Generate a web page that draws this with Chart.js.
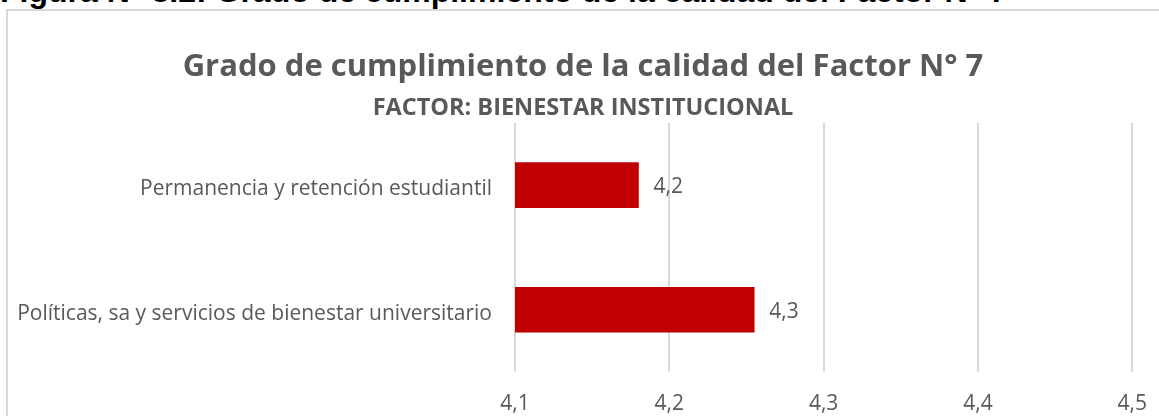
<!DOCTYPE html>
<html><head><meta charset="utf-8">
<script src="https://cdn.jsdelivr.net/npm/chart.js@4.4.1/dist/chart.umd.min.js"></script>
<style>
html,body{margin:0;padding:0;width:1159px;height:416px;overflow:hidden;background:#fff;}
#heading{position:absolute;left:0;top:-25px;white-space:nowrap;font:bold 32px "Liberation Sans",Arial,sans-serif;line-height:32px;color:#000;}
#box{position:absolute;left:6px;top:9px;width:1200px;height:500px;border:2px solid #d9d9d9;box-sizing:border-box;background:transparent;}
#wrap{position:absolute;left:0;top:0;width:1166px;height:416px;}
</style></head><body>
<div id="heading">Figura N° 8.2: Grado de cumplimiento de la calidad del Factor N° 7</div>
<div id="box"></div>
<div id="wrap"><canvas id="c" width="1166" height="416"></canvas></div>
<script>
const categories = ["Permanencia y retención estudiantil", "Políticas, sa y servicios de bienestar universitario"];
const values = [4.18, 4.255];
const tickValues = [4.1, 4.2, 4.3, 4.4, 4.5];
const titleText = "Grado de cumplimiento de la calidad del Factor N° 7";
const subtitleText = "FACTOR: BIENESTAR INSTITUCIONAL";

const GRAY = '#595959';
const fmt = v => (Math.round(v * 10) / 10).toFixed(1).replace('.', ',');

const barLabels = {
  id: 'barLabels',
  afterDatasetsDraw(chart) {
    const ctx = chart.ctx;
    chart.data.datasets.forEach((ds, di) => {
      const meta = chart.getDatasetMeta(di);
      meta.data.forEach((el, i) => {
        ctx.save();
        ctx.font = '21px "Open Sans"';
        ctx.fillStyle = GRAY;
        ctx.textAlign = 'left';
        ctx.textBaseline = 'middle';
        ctx.fillText(fmt(ds.data[i]), el.x + 15, el.y + 2);
        ctx.restore();
      });
    });
  }
};

new Chart(document.getElementById('c'), {
  type: 'bar',
  data: {
    labels: categories,
    datasets: [{
      data: values,
      backgroundColor: '#C00000',
      borderWidth: 0,
      barThickness: 45
    }]
  },
  plugins: [barLabels],
  options: {
    indexAxis: 'y',
    responsive: false,
    animation: false,
    devicePixelRatio: 1,
    layout: { padding: { top: 49, right: 0, bottom: 0, left: 0 } },
    plugins: {
      legend: { display: false },
      tooltip: { enabled: false },
      title: {
        display: true, text: titleText, color: GRAY,
        font: { family: 'Open Sans', size: 31, weight: 'bold', lineHeight: 1.2 },
        padding: { top: 0, bottom: 0 }
      },
      subtitle: {
        display: true, text: subtitleText, color: GRAY,
        font: { family: 'Open Sans', size: 23.5, weight: 'bold', lineHeight: 1.2 },
        padding: { top: 8.5, bottom: 0 }
      }
    },
    scales: {
      x: {
        min: tickValues[0], max: tickValues[tickValues.length - 1],
        afterBuildTicks(scale) { scale.ticks = tickValues.map(v => ({ value: v })); },
        afterFit(scale) { scale.height = 44; },
        grid: { color: '#d9d9d9', lineWidth: 2, drawTicks: false },
        border: { display: false },
        ticks: {
          padding: 19, color: GRAY,
          font: { family: 'Open Sans', size: 21 },
          callback: v => fmt(v)
        }
      },
      y: {
        afterFit(scale) { scale.width = 515; },
        grid: { display: false, drawTicks: false },
        border: { display: false },
        ticks: {
          padding: 23, color: GRAY, labelOffset: 4,
          font: { family: 'Open Sans', size: 21 }
        }
      }
    }
  }
});
</script>
</body></html>
